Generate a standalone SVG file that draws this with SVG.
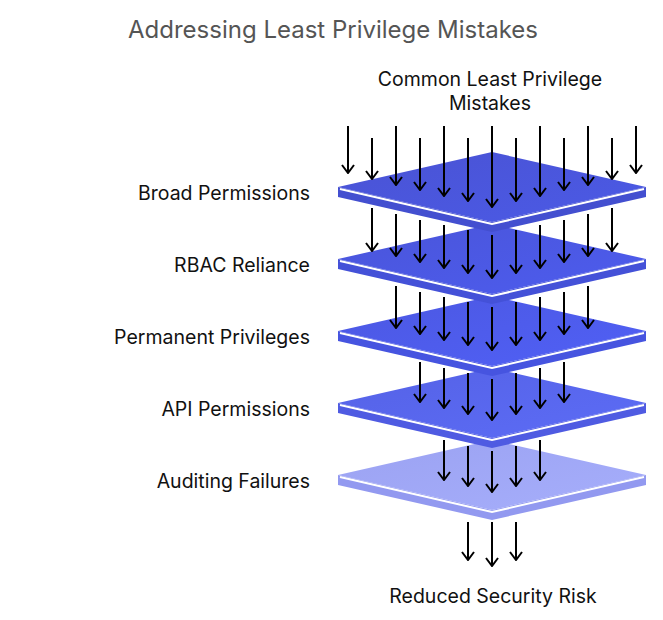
<svg xmlns="http://www.w3.org/2000/svg" width="663" height="620" viewBox="0 0 663 620">
<style>
text{font-family:"Inter","Liberation Sans",sans-serif;fill:#111}
.t{font-size:24px;fill:#555}
.l{font-size:19.5px;text-anchor:end}
.c{font-size:19.5px;text-anchor:middle}
.a line{stroke:#000;stroke-width:2;marker-end:url(#h)}
.edge{fill:none;stroke:#fff;stroke-width:2}
</style>
<defs>
<marker id="h" viewBox="0 0 10 14" refX="9" refY="7" markerWidth="10" markerHeight="14" markerUnits="userSpaceOnUse" orient="auto"><polyline points="1,1 9,7 1,13" fill="none" stroke="#000" stroke-width="2"/></marker>
<linearGradient id="g1" x1="0" y1="0" x2="1" y2="1"><stop offset="0" stop-color="#4a53d4"/><stop offset="1" stop-color="#4b5ae6"/></linearGradient>
<linearGradient id="g2" x1="0" y1="0" x2="1" y2="1"><stop offset="0" stop-color="#4a55da"/><stop offset="1" stop-color="#4d5cee"/></linearGradient>
<linearGradient id="g3" x1="0" y1="0" x2="1" y2="1"><stop offset="0" stop-color="#4c58e2"/><stop offset="1" stop-color="#5060f6"/></linearGradient>
<linearGradient id="g4" x1="0" y1="0" x2="1" y2="1"><stop offset="0" stop-color="#5562e6"/><stop offset="1" stop-color="#5c6cf6"/></linearGradient>
<linearGradient id="g5" x1="0" y1="0" x2="1" y2="1"><stop offset="0" stop-color="#9ba2f2"/><stop offset="1" stop-color="#a6aefb"/></linearGradient>
</defs>
<text class="t" x="128" y="38">Addressing Least Privilege Mistakes</text>
<text class="c" x="490" y="86">Common Least Privilege</text>
<text class="c" x="490" y="110">Mistakes</text>
<text class="c" x="493" y="603">Reduced Security Risk</text>
<g id="labels">
<text class="l" x="310" y="200">Broad Permissions</text>
<text class="l" x="310" y="272">RBAC Reliance</text>
<text class="l" x="310" y="344">Permanent Privileges</text>
<text class="l" x="310" y="416">API Permissions</text>
<text class="l" x="310" y="488">Auditing Failures</text>
</g>
<g id="connectors" class="a">
<line x1="468" y1="522" x2="468" y2="560"/><line x1="492" y1="522" x2="492" y2="566"/><line x1="516" y1="522" x2="516" y2="560"/>
</g>
<g id="layer5">
<path d="M338,475 L492,510 L646,475 L646,485 L492,520 L338,485Z" fill="#9299f0"/>
<path d="M338,475 L492,440 L646,475 L492,510Z" fill="url(#g5)"/>
<path class="edge" d="M340,477 L492,512 L644,477"/>
</g>
<g class="a">
<line x1="444" y1="440" x2="444" y2="480"/><line x1="468" y1="446" x2="468" y2="486"/><line x1="492" y1="451" x2="492" y2="492"/><line x1="516" y1="446" x2="516" y2="486"/><line x1="540" y1="440" x2="540" y2="480"/>
</g>
<g id="layer4">
<path d="M338,403 L492,438 L646,403 L646,413 L492,448 L338,413Z" fill="#4f5be2"/>
<path d="M338,403 L492,368 L646,403 L492,438Z" fill="url(#g4)"/>
<path class="edge" d="M340,405 L492,440 L644,405"/>
</g>
<g class="a">
<line x1="420" y1="362" x2="420" y2="402"/><line x1="444" y1="368" x2="444" y2="408"/><line x1="468" y1="373" x2="468" y2="414"/><line x1="492" y1="379" x2="492" y2="420"/><line x1="516" y1="373" x2="516" y2="414"/><line x1="540" y1="368" x2="540" y2="408"/><line x1="564" y1="362" x2="564" y2="402"/>
</g>
<g id="layer3">
<path d="M338,331 L492,366 L646,331 L646,341 L492,376 L338,341Z" fill="#4654e0"/>
<path d="M338,331 L492,296 L646,331 L492,366Z" fill="url(#g3)"/>
<path class="edge" d="M340,333 L492,368 L644,333"/>
</g>
<g class="a">
<line x1="396" y1="286" x2="396" y2="328"/><line x1="420" y1="292" x2="420" y2="334"/><line x1="444" y1="297" x2="444" y2="340"/><line x1="468" y1="302" x2="468" y2="345"/><line x1="492" y1="307" x2="492" y2="350"/><line x1="516" y1="302" x2="516" y2="345"/><line x1="540" y1="297" x2="540" y2="340"/><line x1="564" y1="292" x2="564" y2="334"/><line x1="588" y1="286" x2="588" y2="328"/>
</g>
<g id="layer2">
<path d="M338,259 L492,294 L646,259 L646,269 L492,304 L338,269Z" fill="#4451d8"/>
<path d="M338,259 L492,224 L646,259 L492,294Z" fill="url(#g2)"/>
<path class="edge" d="M340,261 L492,296 L644,261"/>
</g>
<g class="a">
<line x1="372" y1="208" x2="372" y2="251"/><line x1="396" y1="214" x2="396" y2="256"/><line x1="420" y1="220" x2="420" y2="262"/><line x1="444" y1="225" x2="444" y2="268"/><line x1="468" y1="230" x2="468" y2="273"/><line x1="492" y1="235" x2="492" y2="278"/><line x1="516" y1="230" x2="516" y2="273"/><line x1="540" y1="225" x2="540" y2="268"/><line x1="564" y1="220" x2="564" y2="262"/><line x1="588" y1="214" x2="588" y2="256"/><line x1="612" y1="208" x2="612" y2="251"/>
</g>
<g id="layer1">
<path d="M338,187 L492,222 L646,187 L646,197 L492,232 L338,197Z" fill="#434fd0"/>
<path d="M338,187 L492,152 L646,187 L492,222Z" fill="url(#g1)"/>
<path class="edge" d="M340,189 L492,224 L644,189"/>
</g>
<g class="a">
<line x1="348" y1="126" x2="348" y2="173"/><line x1="372" y1="138" x2="372" y2="179"/><line x1="396" y1="126" x2="396" y2="185"/><line x1="420" y1="138" x2="420" y2="190"/><line x1="444" y1="126" x2="444" y2="196"/><line x1="468" y1="138" x2="468" y2="201"/><line x1="492" y1="126" x2="492" y2="207"/><line x1="516" y1="138" x2="516" y2="201"/><line x1="540" y1="126" x2="540" y2="196"/><line x1="564" y1="138" x2="564" y2="190"/><line x1="588" y1="126" x2="588" y2="185"/><line x1="612" y1="138" x2="612" y2="179"/><line x1="636" y1="126" x2="636" y2="173"/>
</g>
</svg>
